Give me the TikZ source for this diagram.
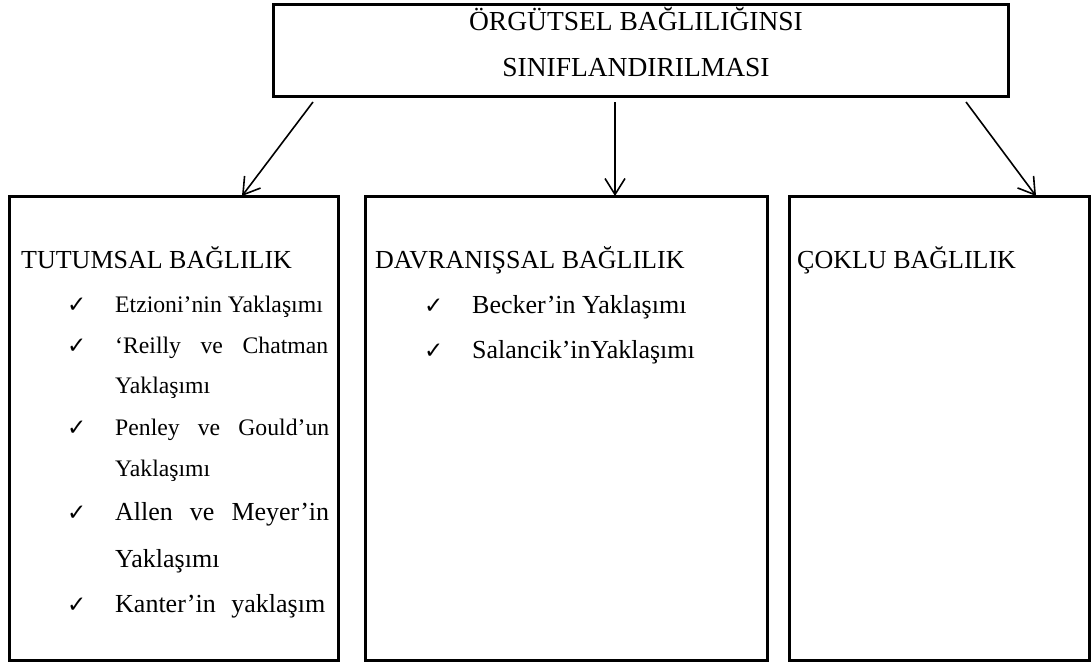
\documentclass[tikz,border=0pt]{standalone}
\usepackage{fontspec}
\setmainfont{Liberation Serif}
\newfontfamily\symfont{DejaVu Sans}
\usetikzlibrary{arrows.meta}
\begin{document}
\begin{tikzpicture}[x=1pt,y=-1pt,
  boxstyle/.style={draw, line width=3pt, rectangle, inner sep=0pt, outer sep=0pt},
  arrowstyle/.style={line width=1.6pt, -{Straight Barb[length=16pt,width=20pt]}},
  head/.style={anchor=base west, inner sep=0pt, font=\fontsize{26}{26}\selectfont},
  titletext/.style={anchor=base, inner sep=0pt, font=\fontsize{27.5}{27.5}\selectfont},
  itemsm/.style={anchor=base west, inner sep=0pt, font=\fontsize{23.7}{23.7}\selectfont},
  itembig/.style={anchor=base west, inner sep=0pt, font=\fontsize{26}{26}\selectfont},
  chk/.style={anchor=base west, inner sep=0pt, font=\symfont\fontsize{23}{23}\selectfont},
]
\useasboundingbox (0,0) rectangle (1091,664);
% boxes
\node[boxstyle, minimum width=735pt, minimum height=92pt] (top) at (640.5,50) {};
\node[boxstyle, minimum width=329pt, minimum height=464pt] (left) at (173.5,428) {};
\node[boxstyle, minimum width=402pt, minimum height=464pt] (mid) at (566,428) {};
\node[boxstyle, minimum width=300pt, minimum height=464pt] (right) at (939,428) {};
% title
\node[titletext] (t1) at (636,30) {ÖRGÜTSEL BAĞLILIĞINSI};
\node[titletext] (t2) at (636,76) {SINIFLANDIRILMASI};
% arrows
\coordinate (s1) at (313,102);
\coordinate (s2) at (615,102);
\coordinate (s3) at (966,102);
\draw[arrowstyle] (s1) -- ([xshift=68.5pt]left.north);
\draw[arrowstyle] (s2) -- ([xshift=49pt]mid.north);
\draw[arrowstyle] (s3) -- ([xshift=97pt]right.north);
% left box
\node[head] (h1) at (21,268) {TUTUMSAL BAĞLILIK};
\node[chk] (c1) at (67,312) {✓};
\node[itemsm] (i1) at (115,312) {Etzioni’nin Yaklaşımı};
\node[chk] (c2) at (67,353) {✓};
\node[itemsm] (i2) at (115,353) {\makebox[213pt][s]{‘Reilly ve Chatman}};
\node[itemsm] (i2b) at (115,393) {Yaklaşımı};
\node[chk] (c3) at (67,435) {✓};
\node[itemsm] (i3) at (115,435) {\makebox[214pt][s]{Penley ve Gould’un}};
\node[itemsm] (i3b) at (115,476) {Yaklaşımı};
\node[chk] (c4) at (67,520) {✓};
\node[itembig] (i4) at (115,520) {\makebox[214pt][s]{Allen ve Meyer’in}};
\node[itembig] (i4b) at (115,567) {Yaklaşımı};
\node[chk] (c5) at (67,612) {✓};
\node[itembig] (i5) at (115,612) {\makebox[210pt][s]{Kanter’in yaklaşım}};
% middle box
\node[head] (h2) at (375,268) {DAVRANIŞSAL BAĞLILIK};
\node[chk] (c6) at (424,313) {✓};
\node[itembig] (i6) at (472,313) {Becker’in Yaklaşımı};
\node[chk] (c7) at (424,358) {✓};
\node[itembig] (i7) at (472,358) {Salancik’inYaklaşımı};
% right box
\node[head] (h3) at (797,268) {ÇOKLU BAĞLILIK};
\end{tikzpicture}
\end{document}
